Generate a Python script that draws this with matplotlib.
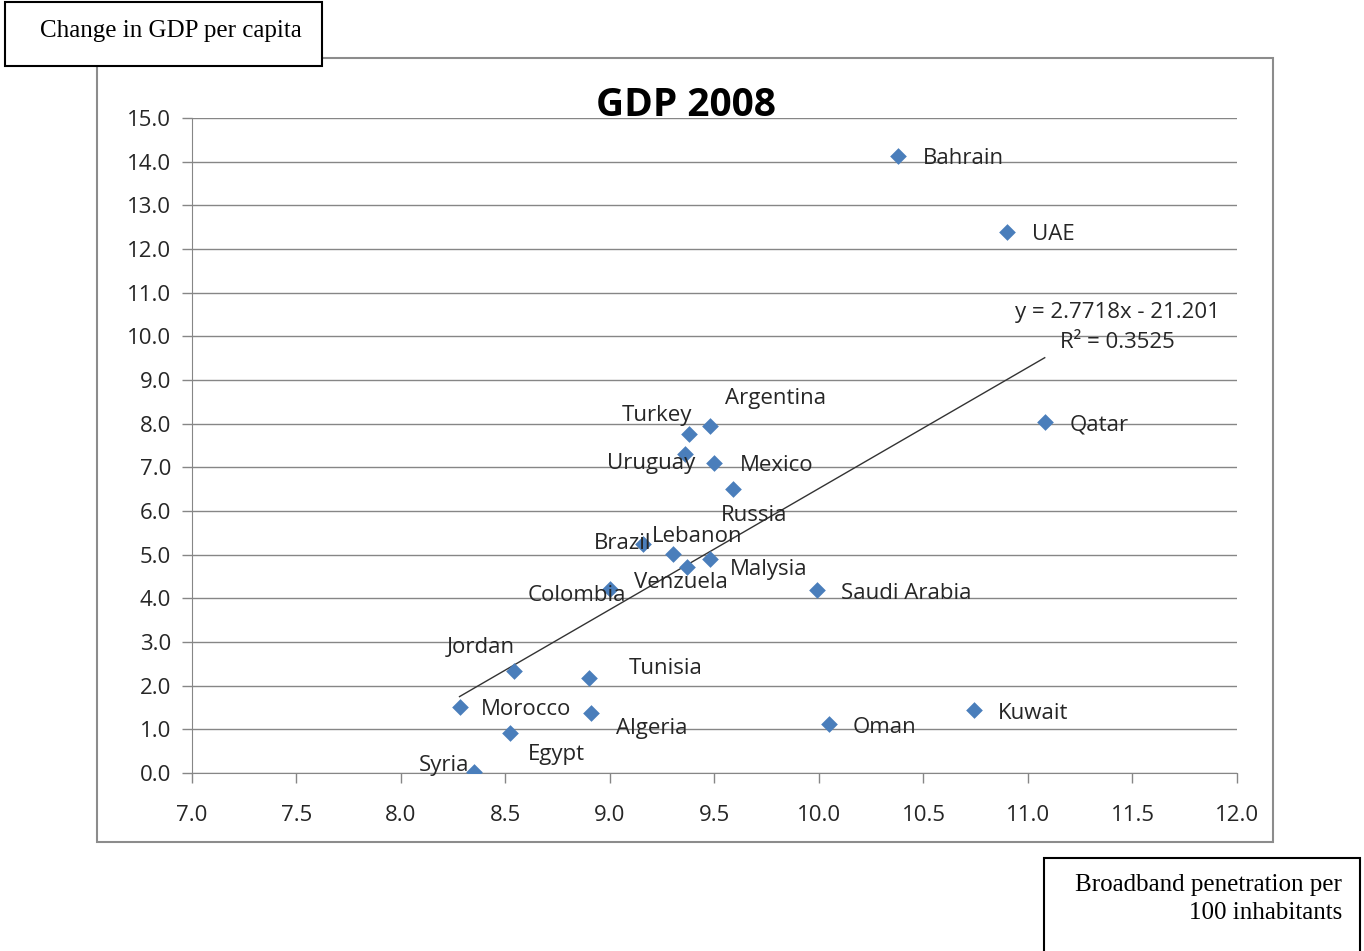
import matplotlib
matplotlib.use('Agg')
import matplotlib.pyplot as plt
from matplotlib.patches import Rectangle
import numpy as np

# Data
countries = ['Bahrain', 'UAE', 'Qatar', 'Argentina', 'Turkey', 'Uruguay', 'Mexico',
             'Russia', 'Brazil', 'Lebanon', 'Malysia', 'Venzuela', 'Colombia',
             'Saudi Arabia', 'Jordan', 'Tunisia', 'Morocco', 'Algeria', 'Egypt',
             'Oman', 'Kuwait', 'Syria']
broadband = [10.38, 10.90, 11.08, 9.48, 9.38, 9.36, 9.50,
             9.59, 9.16, 9.30, 9.48, 9.37, 9.00,
             9.99, 8.54, 8.90, 8.28, 8.91, 8.52,
             10.05, 10.74, 8.35]
gdp_change = [14.13, 12.39, 8.04, 7.95, 7.76, 7.30, 7.10,
              6.50, 5.24, 5.01, 4.90, 4.72, 4.21,
              4.19, 2.34, 2.18, 1.51, 1.37, 0.92,
              1.12, 1.44, 0.02]

# Linear trend shown on the chart
slope = 2.7718
intercept = -21.201
r_squared = 0.3525

x_ticks = [7.0, 7.5, 8.0, 8.5, 9.0, 9.5, 10.0, 10.5, 11.0, 11.5, 12.0]
y_ticks = [0, 1, 2, 3, 4, 5, 6, 7, 8, 9, 10, 11, 12, 13, 14, 15]

# Label placement (pixel offsets from marker, alignment)
label_pos = {
    'Bahrain': (24, 0, 'left'), 'UAE': (25, 0, 'left'), 'Qatar': (25, 0, 'left'),
    'Argentina': (15, -30, 'left'), 'Turkey': (3, -22, 'right'),
    'Uruguay': (10, 6, 'right'), 'Mexico': (25, 0, 'left'),
    'Russia': (-12, 23, 'left'), 'Brazil': (8, -4, 'right'),
    'Lebanon': (-21, -21, 'left'), 'Malysia': (20, 7, 'left'),
    'Venzuela': (-53, 13, 'left'), 'Colombia': (16, 3, 'right'),
    'Saudi Arabia': (24, 0, 'left'), 'Jordan': (1, -26, 'right'),
    'Tunisia': (40, -12, 'left'), 'Morocco': (21, -1, 'left'),
    'Algeria': (25, 12, 'left'), 'Egypt': (18, 19, 'left'),
    'Oman': (23, 0, 'left'), 'Kuwait': (24, 0, 'left'), 'Syria': (-5, -10, 'right'),
}

W, H = 1364, 951
fig = plt.figure(figsize=(W / 100, H / 100), dpi=100)
font = 'Open Sans'
txt = '#262626'

# Outer chart frame
fig.patches.append(Rectangle((97 / W, 1 - 842 / H), (1273 - 97) / W, (842 - 58) / H,
                             transform=fig.transFigure, fill=False,
                             edgecolor='#8c8c8c', lw=1.5, zorder=0))

ax = fig.add_axes([192 / W, 1 - 773 / H, 1045 / W, 655 / H])
ax.scatter(broadband, gdp_change, marker='D', s=8.5 ** 2, color='#4a7ebb', zorder=3,
           linewidths=0)

xs = np.array([min(broadband), max(broadband)])
ax.plot(xs, slope * xs + intercept, color='#333333', lw=1.0, zorder=2)

for name, x, y in zip(countries, broadband, gdp_change):
    dx, dy, ha = label_pos[name]
    ax.annotate(name, (x, y), xytext=(dx * 0.72, -(dy + 3) * 0.72),
                textcoords='offset points', ha=ha, va='center', fontsize=16,
                family=font, color=txt, zorder=4)

ax.text(0.886, 0.703, 'y = 2.7718x - 21.201', transform=ax.transAxes, ha='center',
        va='center', fontsize=16, family=font, color=txt)
ax.text(0.886, 0.657, 'R² = %.4f' % r_squared, transform=ax.transAxes, ha='center',
        va='center', fontsize=16, family=font, color=txt)

ax.set_xlim(7, 12)
ax.set_ylim(0, 15)
ax.set_xticks(x_ticks)
ax.set_yticks(y_ticks)
ax.set_xticklabels(['%.1f' % t for t in x_ticks], family=font, fontsize=16)
ax.set_yticklabels(['%.1f' % t for t in y_ticks], family=font, fontsize=16)
ax.tick_params(direction='out', length=7, width=1, color='#868686', pad=8,
               labelcolor=txt)
ax.tick_params(axis='x', pad=16)
ax.grid(axis='y', color='#868686', lw=1)
ax.set_axisbelow(True)
for s in ['top', 'right']:
    ax.spines[s].set_visible(False)
for s in ['left', 'bottom']:
    ax.spines[s].set_color('#868686')

fig.text(686 / W, 1 - 106 / H, 'GDP 2008', fontsize=28, fontweight='bold', family=font,
         ha='center', va='center', color='black')

# Axis caption boxes
fig.patches.append(Rectangle((5 / W, 1 - 66 / H), 317 / W, 64 / H, transform=fig.transFigure,
                             facecolor='white', edgecolor='black', lw=1.5, zorder=5))
fig.text(40 / W, 1 - 31 / H, 'Change in GDP per capita', family='Liberation Serif',
         fontsize=18, ha='left', va='center', zorder=6)
fig.patches.append(Rectangle((1044 / W, 1 - 960 / H), 316 / W, 102 / H,
                             transform=fig.transFigure, facecolor='white',
                             edgecolor='black', lw=1.5, zorder=5))
fig.text(1342 / W, 1 - 899 / H, 'Broadband penetration per\n100 inhabitants',
         family='Liberation Serif', fontsize=18, ha='right', va='center',
         linespacing=1.35, zorder=6)

fig.savefig('out.png', dpi=100)
